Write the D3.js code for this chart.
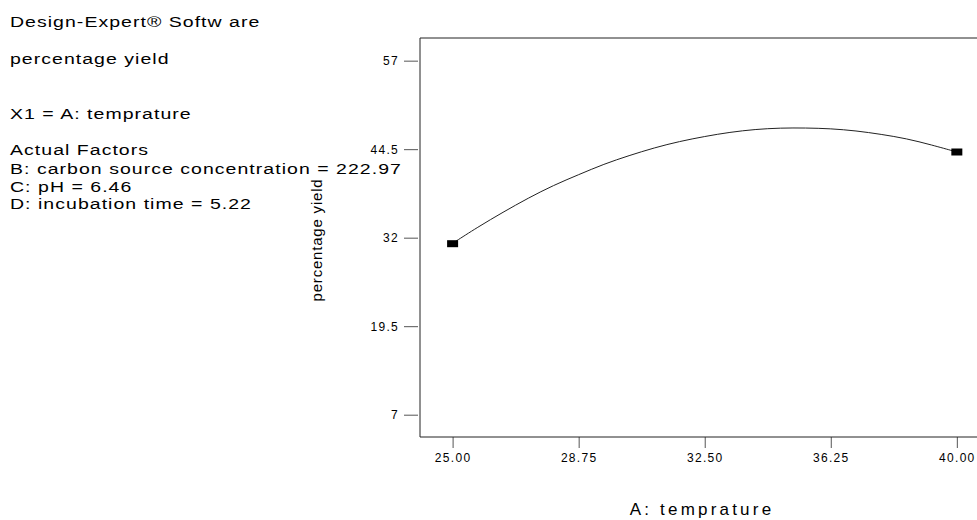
<!DOCTYPE html>
<html>
<head>
<meta charset="utf-8">
<script src="https://cdn.jsdelivr.net/npm/d3@7"></script>
<style>
    body { margin: 0; background: #fff; }
    svg { display: block; font-family: "Liberation Sans", Arial, sans-serif; }
    .info { font-size: 15px; letter-spacing: 0.8px; fill: #000; }
    .tick text { font-size: 12px; letter-spacing: 1.3px; fill: #000; font-family: "Liberation Sans", Arial, sans-serif; }
    .tick line { stroke: #555; }
</style>
</head>
<body>
<div id="chart"></div>
<script>
// factor settings shown at left
const infoLines = [
    'Design-Expert® Softw are',
    'percentage yield',
    'X1 = A: temprature',
    'Actual Factors',
    'B: carbon source concentration = 222.97',
    'C: pH = 6.46',
    'D: incubation time = 5.22'
];

// model curve
const temperature = [25.00, 25.75, 26.50, 27.25, 28.00, 28.75, 29.50, 30.25, 31.00, 31.75, 32.50,
                     33.25, 34.00, 34.75, 35.50, 36.25, 37.00, 37.75, 38.50, 39.25, 40.00];
const yieldPred = [31.2, 33.5, 35.6, 37.6, 39.4, 40.9, 42.4, 43.6, 44.7, 45.6, 46.3,
                   46.9, 47.3, 47.5, 47.5, 47.4, 47.1, 46.6, 46.0, 45.1, 44.1];

// design points
const designTemp = [25, 40];
const designYield = [31.15, 44.1];

const xTicks = [25, 28.75, 32.5, 36.25, 40];
const yTicks = [7, 19.5, 32, 44.5, 57];

const width = 977, height = 520;
const plot = {left: 420, top: 38, right: 977, bottom: 437};

const svg = d3.select('#chart')
    .append('svg')
    .attr('width', width)
    .attr('height', height);

const xScale = d3.scaleLinear()
    .domain([24.03, 40.6])
    .range([plot.left, plot.right]);
const yScale = d3.scaleLinear()
    .domain([3.85, 60.2])
    .range([plot.bottom, plot.top]);

// left text block (the export stretches text horizontally)
const infoY = [22, 59, 114, 150, 169, 187, 204];
svg.append('g')
    .attr('transform', 'translate(10,0) scale(1.3,1)')
    .selectAll('text')
    .data(infoLines)
    .join('text')
    .attr('class', 'info')
    .attr('x', 0)
    .attr('y', (d, i) => infoY[i])
    .attr('dy', '0.35em')
    .text(d => d);

// axes
const yAxis = d3.axisLeft(yScale)
    .tickValues(yTicks)
    .tickSize(14)
    .tickPadding(5)
    .tickFormat(d => d);
svg.append('g')
    .attr('class', 'y-axis')
    .attr('transform', `translate(${plot.left - 2},0)`)
    .call(yAxis)
    .call(g => g.select('.domain').remove());

const xAxis = d3.axisBottom(xScale)
    .tickValues(xTicks)
    .tickSize(11)
    .tickPadding(5)
    .tickFormat(d3.format('.2f'));
svg.append('g')
    .attr('class', 'x-axis')
    .attr('transform', `translate(0,${plot.bottom})`)
    .call(xAxis)
    .call(g => g.select('.domain').remove());

// frame
svg.append('path')
    .attr('d', `M${plot.right},${plot.top}H${plot.left}V${plot.bottom}H${plot.right}`)
    .attr('fill', 'none')
    .attr('stroke', '#222')
    .attr('stroke-width', 1);

// curve
const line = d3.line()
    .x((d, i) => xScale(temperature[i]))
    .y(d => yScale(d))
    .curve(d3.curveBasis);
svg.append('path')
    .datum(yieldPred)
    .attr('d', line)
    .attr('fill', 'none')
    .attr('stroke', '#222')
    .attr('stroke-width', 1);

// design point markers
svg.append('g')
    .selectAll('rect')
    .data(designTemp)
    .join('rect')
    .attr('x', d => xScale(d) - 5.5)
    .attr('y', (d, i) => yScale(designYield[i]) - 3.5)
    .attr('width', 11)
    .attr('height', 7)
    .attr('fill', '#000');

// axis titles
svg.append('text')
    .attr('x', 702)
    .attr('y', 509)
    .attr('dy', '0.35em')
    .attr('text-anchor', 'middle')
    .style('font-size', '17px')
    .style('letter-spacing', '3.2px')
    .text('A: temprature');

svg.append('text')
    .attr('transform', 'translate(317,240) rotate(-90)')
    .attr('dy', '0.35em')
    .attr('text-anchor', 'middle')
    .style('font-size', '15px')
    .style('letter-spacing', '0.8px')
    .text('percentage yield');
</script>
</body>
</html>
